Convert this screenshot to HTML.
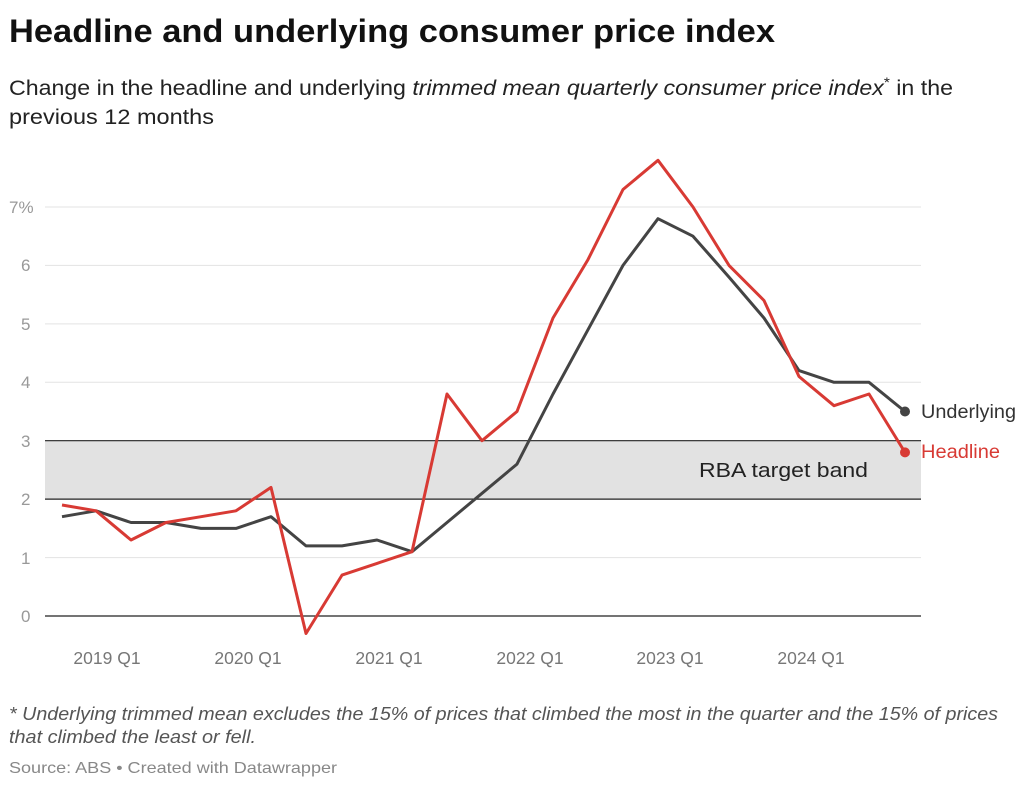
<!DOCTYPE html>
<html><head><meta charset="utf-8"><style>
body{margin:0;background:#fff;width:1024px;height:787px;overflow:hidden;font-family:"Liberation Sans",sans-serif}
</style></head><body>
<svg width="1024" height="787" xmlns="http://www.w3.org/2000/svg" font-family="Liberation Sans, sans-serif">
<text x="9" y="42" font-size="32" font-weight="bold" fill="#111" textLength="766" lengthAdjust="spacingAndGlyphs">Headline and underlying consumer price index</text>
<text x="9" y="95" font-size="21" fill="#222" textLength="944" lengthAdjust="spacingAndGlyphs">Change in the headline and underlying <tspan font-style="italic">trimmed mean quarterly consumer price index</tspan><tspan dy="-8" font-size="14">*</tspan><tspan dy="8"> in the</tspan></text>
<text x="9" y="124" font-size="21" fill="#222" textLength="205" lengthAdjust="spacingAndGlyphs">previous 12 months</text>
<rect x="45" y="440.7" width="876" height="58.4" fill="#e2e2e2"/>
<g stroke="#e3e3e3" stroke-width="1">
<line x1="45" x2="921" y1="207" y2="207"/><line x1="45" x2="921" y1="265.4" y2="265.4"/><line x1="45" x2="921" y1="323.9" y2="323.9"/><line x1="45" x2="921" y1="382.3" y2="382.3"/><line x1="45" x2="921" y1="557.6" y2="557.6"/>
</g>
<g stroke="#222" stroke-width="1.2">
<line x1="45" x2="921" y1="440.7" y2="440.7"/><line x1="45" x2="921" y1="499.1" y2="499.1"/><line x1="45" x2="921" y1="616" y2="616"/>
</g>
<g font-size="17" fill="#999">
<text x="9" y="213">7%</text><text x="21" y="271">6</text><text x="21" y="330">5</text><text x="21" y="388">4</text><text x="21" y="447">3</text><text x="21" y="505">2</text><text x="21" y="564">1</text><text x="21" y="622">0</text>
</g>
<g font-size="17.5" fill="#777" text-anchor="middle">
<text x="107" y="664">2019 Q1</text><text x="248" y="664">2020 Q1</text><text x="389" y="664">2021 Q1</text><text x="530" y="664">2022 Q1</text><text x="670" y="664">2023 Q1</text><text x="811" y="664">2024 Q1</text>
</g>
<text x="699" y="477" font-size="20" fill="#222" textLength="169" lengthAdjust="spacingAndGlyphs">RBA target band</text>
<polyline fill="none" stroke="#444" stroke-width="3" stroke-linejoin="round" points="62,516.7 96,510.8 131,522.5 166,522.5 201,528.4 236,528.4 271,516.7 306,545.9 342,545.9 377,540 412,551.7 447,522.5 482,493.3 517,464.1 553,394 588,329.7 623,265.4 658,218.7 693,236.2 729,277.1 764,318 799,370.6 834,382.3 869,382.3 905,411.5"/>
<polyline fill="none" stroke="#d83a34" stroke-width="3" stroke-linejoin="round" points="62,505 96,510.8 131,540 166,522.5 201,516.7 236,510.8 271,487.4 306,633.5 342,575.1 377,563.4 412,551.7 447,394 482,440.7 517,411.5 553,318 588,259.6 623,189.5 658,160.3 693,207 729,265.4 764,300.5 799,376.5 834,405.7 869,394 905,452.4"/>
<circle cx="905" cy="411.5" r="5" fill="#444"/>
<circle cx="905" cy="452.4" r="5" fill="#d83a34"/>
<text x="921" y="418" font-size="19" fill="#333" textLength="95" lengthAdjust="spacingAndGlyphs">Underlying</text>
<text x="921" y="458" font-size="19" fill="#d83a34" textLength="79" lengthAdjust="spacingAndGlyphs">Headline</text>
<text x="9" y="720" font-size="18" font-style="italic" fill="#555" textLength="989" lengthAdjust="spacingAndGlyphs">* Underlying trimmed mean excludes the 15% of prices that climbed the most in the quarter and the 15% of prices</text>
<text x="9" y="743" font-size="18" font-style="italic" fill="#555" textLength="247" lengthAdjust="spacingAndGlyphs">that climbed the least or fell.</text>
<text x="9" y="773" font-size="16" fill="#888" textLength="328" lengthAdjust="spacingAndGlyphs">Source: ABS • Created with Datawrapper</text>
</svg>
</body></html>
